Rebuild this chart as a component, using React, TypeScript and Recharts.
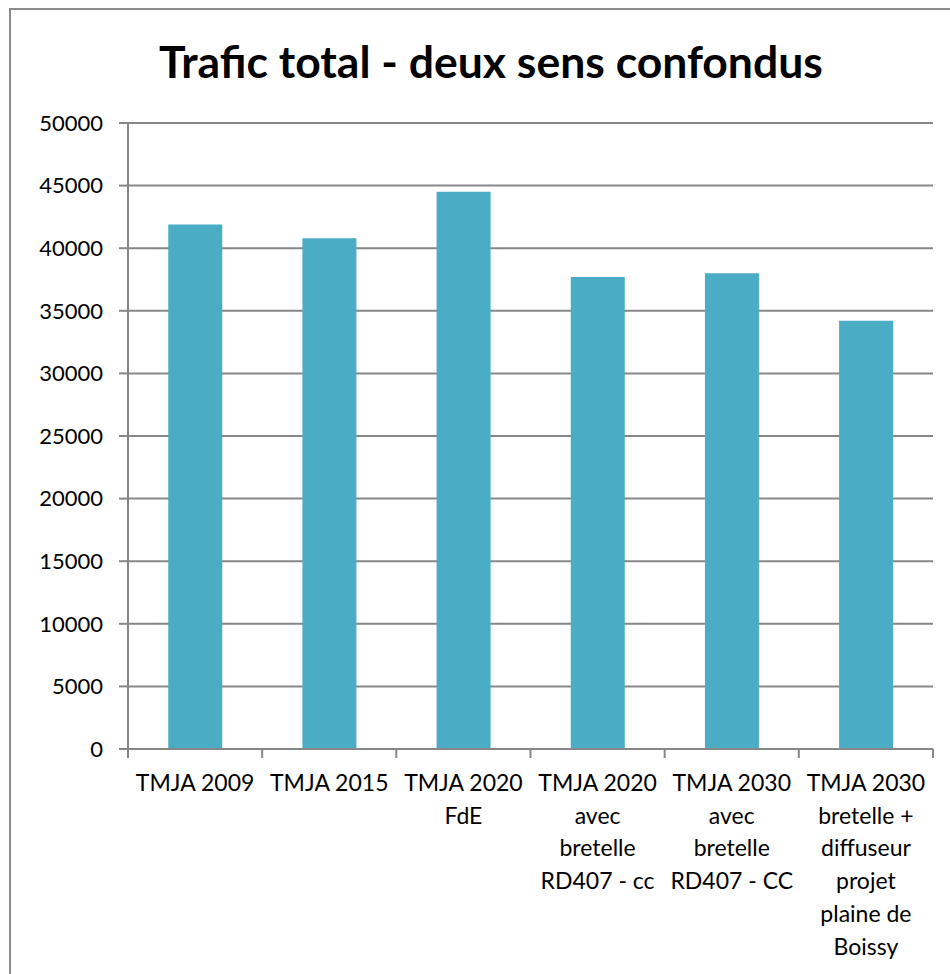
import React from "react";
import { BarChart, Bar, XAxis, YAxis, CartesianGrid } from "recharts";

const categories = [
  "TMJA 2009",
  "TMJA 2015",
  "TMJA 2020 FdE",
  "TMJA 2020 avec bretelle RD407 - cc",
  "TMJA 2030 avec bretelle RD407 - CC",
  "TMJA 2030 bretelle + diffuseur projet plaine de Boissy",
];

const labelLines = [
  ["TMJA 2009"],
  ["TMJA 2015"],
  ["TMJA 2020", "FdE"],
  ["TMJA 2020", "avec", "bretelle", "RD407 - cc"],
  ["TMJA 2030", "avec", "bretelle", "RD407 - CC"],
  ["TMJA 2030", "bretelle +", "diffuseur", "projet", "plaine de", "Boissy"],
];

const trafic = [41900, 40800, 44500, 37700, 38000, 34200];

const yTicks = [0, 5000, 10000, 15000, 20000, 25000, 30000, 35000, 40000, 45000, 50000];

const data = categories.map((name, i) => ({ name, value: trafic[i] }));

const FONT = "Lato, 'Liberation Sans', sans-serif";
const GRID = "#878787";

const PLOT_LEFT = 128;
const PLOT_RIGHT = 933;
const STEP = (PLOT_RIGHT - PLOT_LEFT) / categories.length;

// multi-line category label + boundary tick marks like Excel
const CategoryTick = (props: any) => {
  const { x, y, payload, index } = props;
  const lines = labelLines[index] || [payload.value];
  return (
    <g>
      <line x1={x - STEP / 2} y1={y - 8} x2={x - STEP / 2} y2={y + 1} stroke={GRID} strokeWidth={2} />
      {index === categories.length - 1 && (
        <line x1={x + STEP / 2} y1={y - 8} x2={x + STEP / 2} y2={y + 1} stroke={GRID} strokeWidth={2} />
      )}
      {lines.map((l, i) => (
        <text
          key={i}
          x={x}
          y={y + 34 + i * 32.7}
          textAnchor="middle"
          fontFamily={FONT}
          fontSize={23}
          fill="#000"
        >
          {l}
        </text>
      ))}
    </g>
  );
};

const App = () => {
  return (
    <div style={{ position: "absolute", left: 0, top: 0, width: 950, height: 974, overflow: "hidden", background: "#fff" }}>
      <div
        style={{
          position: "absolute",
          left: 9,
          top: 8,
          width: 960,
          height: 990,
          border: "2px solid #8c8c8c",
        }}
      />
      <div
        style={{
          position: "absolute",
          left: 0,
          top: 35,
          width: 982,
          textAlign: "center",
          fontFamily: FONT,
          fontWeight: 700,
          fontSize: 44.5,
          color: "#000",
          lineHeight: "52px",
        }}
      >
        Trafic total - deux sens confondus
      </div>
      <div style={{ position: "absolute", left: 0, top: 0 }}>
        <BarChart
          width={950}
          height={974}
          data={data}
          margin={{ top: 123, right: 17, bottom: 0, left: 0 }}
          barCategoryGap="30%"
        >
          <CartesianGrid vertical={false} stroke={GRID} strokeWidth={2} />
          <XAxis
            dataKey="name"
            height={225}
            interval={0}
            axisLine={{ stroke: GRID, strokeWidth: 2 }}
            tickLine={false}
            tick={<CategoryTick />}
          />
          <YAxis
            width={128}
            domain={[0, 50000]}
            ticks={yTicks}
            interval={0}
            axisLine={{ stroke: GRID, strokeWidth: 2 }}
            tickLine={{ stroke: GRID, strokeWidth: 2 }}
            tickSize={9}
            tickMargin={16}
            tick={{ fontFamily: FONT, fontSize: 22, fill: "#000" }}
          />
          <Bar dataKey="value" fill="#4BACC6" isAnimationActive={false} />
        </BarChart>
      </div>
    </div>
  );
};

export default App;
